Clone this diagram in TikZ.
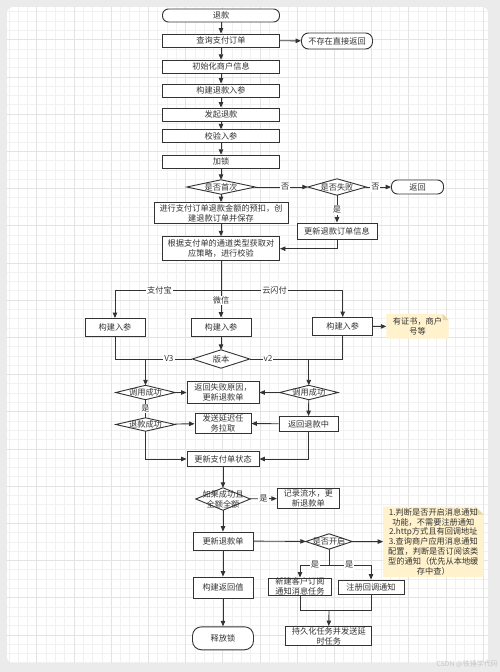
\documentclass[tikz,border=0pt]{standalone}
\usepackage{fontspec}
\setmainfont{Noto Sans CJK SC}
\usetikzlibrary{arrows.meta}
\definecolor{lc}{HTML}{333333}
\definecolor{tc}{HTML}{333333}
\definecolor{gridminor}{HTML}{F1F1F1}
\definecolor{gridmajor}{HTML}{E3E3E3}
\definecolor{outerc}{HTML}{EBEBEB}
\definecolor{notefill}{HTML}{FFF2CC}
\definecolor{notefold}{HTML}{E6D6A2}
\pgfdeclarelayer{gridl}
\pgfdeclarelayer{bg}
\pgfsetlayers{gridl,bg,main}
\newcommand\fs{\fontsize{8.2}{9.8}\selectfont}
\tikzset{
  box/.style={draw=lc, fill=white, line width=0.9pt, inner sep=0pt, align=center, font=\fs, text=tc},
  term/.style={box, rounded corners=#1},
  dia/.style={inner sep=0pt, align=center, font=\fs, text=tc},
  notebox/.style={inner sep=0pt, align=center, font=\fs, text=tc},
  arr/.style={draw=lc, line width=0.9pt, -{Triangle[length=5.5pt,width=4.5pt]}},
  ln/.style={draw=lc, line width=0.9pt},
  lbl/.style={fill=white, inner sep=1pt, font=\fs, text=tc},
}
\begin{document}
\begin{tikzpicture}[x=1pt,y=-1pt]
\useasboundingbox (0,0) rectangle (500,672);
% background frame and grid
\begin{pgfonlayer}{gridl}
\fill[outerc] (0,0) rectangle (500,672);
\begin{scope}
\clip[rounded corners=6] (7,7) rectangle (488,663);
\fill[white] (7,7) rectangle (488,663);
\foreach \k [evaluate=\k as \xx using -0.5+9.3*\k] in {1,...,53}
  {\draw[gridminor, line width=0.5pt] (\xx,7) -- (\xx,663);}
\foreach \k [evaluate=\k as \yy using 2.4+9.3*\k] in {1,...,71}
  {\draw[gridminor, line width=0.5pt] (7,\yy) -- (488,\yy);}
\foreach \k [evaluate=\k as \xx using -0.5+37.2*\k] in {1,...,13}
  {\draw[gridmajor, line width=0.5pt] (\xx,7) -- (\xx,663);}
\foreach \k [evaluate=\k as \yy using 2.4+37.2*\k] in {1,...,17}
  {\draw[gridmajor, line width=0.5pt] (7,\yy) -- (488,\yy);}
\end{scope}
\end{pgfonlayer}

% nodes
\node[term=6, minimum width=117, minimum height=13] (start) at (221,15.5) {退款};
\node[box, minimum width=117, minimum height=13] (q) at (221,40.5) {查询支付订单};
\node[term=7, minimum width=71, minimum height=16] (notexist) at (337,41) {不存在直接返回};
\node[box, minimum width=117, minimum height=13] (init) at (221,66.7) {初始化商户信息};
\node[box, minimum width=117, minimum height=13] (build) at (221,90.5) {构建退款入参};
\node[box, minimum width=117, minimum height=13] (launch) at (221,114.5) {发起退款};
\node[box, minimum width=117, minimum height=13] (check) at (221,136.3) {校验入参};
\node[box, minimum width=117, minimum height=13] (lock) at (221,161.7) {加锁};
\node[dia, minimum width=68, minimum height=14] (first) at (221,187) {是否首次};
\node[dia, minimum width=58, minimum height=16] (fail) at (337,187) {是否失败};
\node[term=6, minimum width=52, minimum height=14] (ret) at (417.5,187) {返回};
\node[box, minimum width=80, minimum height=16] (upd) at (337,231) {更新退款订单信息};
\node[box, minimum width=134, minimum height=21] (pre) at (221,213) {进行支付订单退款金额的预扣，创\\建退款订单并保存};
\node[box, minimum width=117, minimum height=24] (strat) at (221,248.7) {根据支付单的通道类型获取对\\应策略，进行校验};
\node[box, minimum width=60, minimum height=18] (b1) at (115,327.5) {构建入参};
\node[box, minimum width=60, minimum height=18] (b2) at (221,327) {构建入参};
\node[box, minimum width=60, minimum height=18] (b3) at (342.7,326.5) {构建入参};
\node[notebox, minimum width=62, minimum height=24] (note1) at (417.5,326.3) {有证书，商户\\号等};
\node[dia, minimum width=57, minimum height=18] (ver) at (221,359) {版本};
\node[dia, minimum width=59, minimum height=14] (call1) at (145.5,392.5) {调用成功};
\node[dia, minimum width=59, minimum height=13] (rsucc) at (145.5,424.5) {退款成功};
\node[box, minimum width=72, minimum height=22] (rfail) at (223,392.5) {返回失败原因，\\更新退款单};
\node[box, minimum width=56, minimum height=20] (delay) at (223,423.3) {发送延迟任\\务拉取};
\node[dia, minimum width=58, minimum height=14] (call2) at (308.8,392.5) {调用成功};
\node[box, minimum width=59, minimum height=15] (retin) at (308.5,424) {返回退款中};
\node[box, minimum width=72, minimum height=15] (paystat) at (223,459) {更新支付单状态};
\node[dia, minimum width=54, minimum height=22] (full) at (223,499) {如果成功且\\全额全额};
\node[box, minimum width=62, minimum height=20] (flow) at (308.3,498.3) {记录流水，更\\新退款单};
\node[box, minimum width=60, minimum height=18] (updref) at (223,541) {更新退款单};
\node[dia, minimum width=46, minimum height=15] (open) at (329,541.5) {是否开启};
\node[notebox, minimum width=100, minimum height=70] (note2) at (433.3,541.7) {1.判断是否开启消息通知\\功能，不需要注册通知\\2.http方式且有回调地址\\3.查询商户应用消息通知\\配置，判断是否订阅该类\\型的通知（优先从本地缓\\存中查）};
\node[box, minimum width=63, minimum height=17] (sub) at (300,586.7) {新建客户订阅\\通知消息任务};
\node[box, minimum width=66, minimum height=14] (reg) at (371,587) {注册回调通知};
\node[box, minimum width=60, minimum height=21] (bret) at (223,587.5) {构建返回值};
\node[term=9, minimum width=61, minimum height=23] (unlock) at (223,638.3) {释放锁};
\node[box, minimum width=86, minimum height=19] (persist) at (328.8,636) {持久化任务并发送延\\时任务};
\node[text=black!22, font=\fontsize{7}{8}\selectfont, anchor=east, inner sep=0pt] (wm) at (498,664) {CSDN @铁锤学代码};

% diamond and note shapes
\begin{pgfonlayer}{bg}
\foreach \n in {first,fail,ver,call1,rsucc,call2,full,open}
  {\draw[lc, fill=white, line width=0.9pt] (\n.west) -- (\n.north) -- (\n.east) -- (\n.south) -- cycle;}
\fill[notefill] (note1.south west) -- (note1.north west) -- ([xshift=-6pt]note1.north east) -- ([yshift=-6pt]note1.north east) -- (note1.south east) -- cycle;
\fill[notefold] ([xshift=-6pt]note1.north east) -- ([xshift=-6pt,yshift=-6pt]note1.north east) -- ([yshift=-6pt]note1.north east) -- cycle;
\fill[notefill] (note2.south west) -- (note2.north west) -- ([xshift=-8pt]note2.north east) -- ([yshift=-8pt]note2.north east) -- (note2.south east) -- cycle;
\fill[notefold] ([xshift=-8pt]note2.north east) -- ([xshift=-8pt,yshift=-8pt]note2.north east) -- ([yshift=-8pt]note2.north east) -- cycle;
\end{pgfonlayer}

% connectors
\draw[arr] (start) -- (q);
\draw[arr] (q) -- (notexist);
\draw[arr] (q) -- (init);
\draw[arr] (init) -- (build);
\draw[arr] (build) -- (launch);
\draw[arr] (launch) -- (check);
\draw[arr] (check) -- (lock);
\draw[arr] (lock) -- (first);
\draw[arr] (first) -- node[lbl, pos=0.57]{否} (fail);
\draw[arr] (fail) -- node[lbl, pos=0.37]{否} (ret);
\draw[arr] (fail) -- node[lbl, pos=0.54]{是} (upd);
\draw[arr] (first) -- (pre);
\draw[arr] (pre) -- (strat);
\draw[arr] (upd.south) |- (strat.east);
\coordinate (br) at (221,290.7);
\draw[arr] (strat.south) -- node[lbl, pos=0.7]{微信} (b2.north);
\draw[arr] (br) -| node[lbl, pos=0.29]{支付宝} (b1.north);
\draw[arr] (br) -| node[lbl, pos=0.22]{云闪付} (b3.north);
\draw[arr] (b3) -- (note1);
\draw[arr] (b2) -- (ver);
\coordinate (v3) at (145.5,359);
\draw[ln] (b1.south) |- (v3);
\draw[ln] (ver.west) -- node[lbl]{V3} (v3);
\draw[arr] (v3) -- (call1.north);
\coordinate (v2) at (308.8,359);
\draw[ln] (b3.south) |- (v2);
\draw[ln] (ver.east) -- node[lbl, pos=0.31]{v2} (v2);
\draw[arr] (v2) -- (call2.north);
\draw[arr] (call1) -- (rfail);
\draw[ln] (call1) -- node[lbl]{是} (rsucc);
\draw[arr] (rsucc) -- (delay);
\draw[arr] (call2) -- (rfail);
\draw[arr] (call2) -- (retin);
\draw[arr] (retin) -- (delay);
\draw[arr] (rsucc.south) |- (paystat.west);
\draw[arr] (retin.south) |- (paystat.east);
\draw[arr] (paystat) -- (full);
\draw[arr] (full) -- node[lbl]{是} (flow);
\draw[arr] (full) -- (updref);
\draw[arr] (updref) -- (open);
\draw[arr] (open) -- (note2);
\coordinate (sp) at (329,565);
\draw[arr] (open.south) -- (sp) -| node[lbl, pos=0.24]{是} (sub.north);
\draw[arr] (sp) -| node[lbl, pos=0.24]{是} (reg.north);
\draw[arr] (updref) -- (bret);
\draw[arr] (bret) -- (unlock);
\coordinate (mg) at (329,610.7);
\draw[ln] (sub.south) |- (mg);
\draw[ln] (reg.south) |- (mg);
\draw[arr] (mg) -- (persist.north);
\end{tikzpicture}
\end{document}
